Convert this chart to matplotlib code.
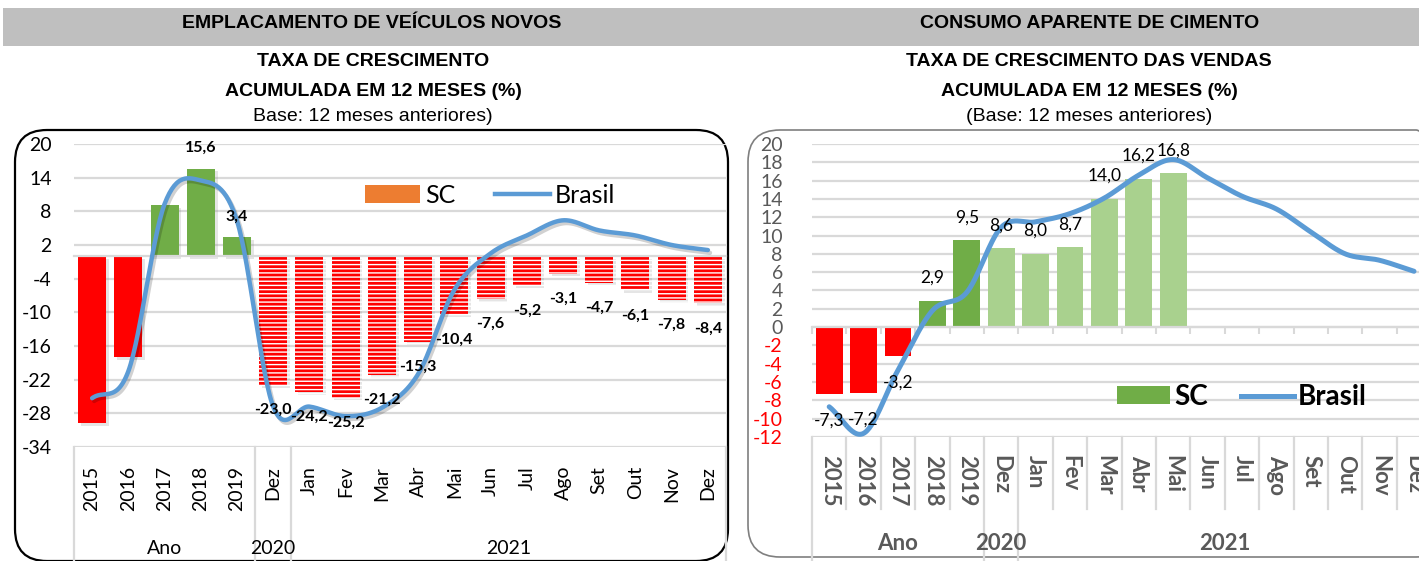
import numpy as np
import matplotlib
matplotlib.use("Agg")
import matplotlib.pyplot as plt
import matplotlib.transforms as mtransforms
import matplotlib.patheffects as pe
from matplotlib.patches import FancyBboxPatch, Rectangle, Patch
from matplotlib.lines import Line2D

# ---------------- data ----------------
categories = ["2015", "2016", "2017", "2018", "2019", "Dez",
              "Jan", "Fev", "Mar", "Abr", "Mai", "Jun", "Jul", "Ago", "Set", "Out", "Nov", "Dez"]
groups = [("Ano", 0, 4), ("2020", 5, 5), ("2021", 6, 17)]

veic_sc = [-29.8, -18.0, 9.1, 15.6, 3.4, -23.0, -24.2, -25.2, -21.2, -15.3,
           -10.4, -7.6, -5.2, -3.1, -4.7, -6.1, -7.8, -8.4]
veic_brasil = [-25.3, -20.5, 9.3, 13.5, 6.3, -26.8, -26.8, -28.5, -27.0, -21.0,
               -6.0, 0.5, 3.7, 6.4, 4.6, 3.7, 2.0, 1.1]
veic_label_from = 3

cim_sc = [-7.3, -7.2, -3.2, 2.9, 9.5, 8.6, 8.0, 8.7, 14.0, 16.2, 16.8,
          np.nan, np.nan, np.nan, np.nan, np.nan, np.nan, np.nan]
cim_brasil = [-8.7, -11.6, -4.7, 1.8, 3.8, 10.9, 11.5, 12.4, 14.1, 16.6, 18.3,
              16.3, 14.3, 12.9, 10.4, 8.0, 7.3, 6.1]

left_yticks = [20, 14, 8, 2, -4, -10, -16, -22, -28, -34]
right_yticks = list(range(20, -13, -2))

# ---------------- style ----------------
W, H = 1419, 561
RED = "#FF0000"
GREEN = "#70AD47"
LGREEN = "#A9D18E"
BLUE = "#5B9BD5"
GRID = "#D9D9D9"
GRAYTXT = "#595959"
NARROW = ["Liberation Sans Narrow", "Liberation Sans", "DejaVu Sans"]
BODY = ["Lato", "DejaVu Sans"]

plt.rcParams["font.family"] = BODY
plt.rcParams["hatch.linewidth"] = 1.0

fig = plt.figure(figsize=(W / 100, H / 100), dpi=100)
fig.patch.set_facecolor("white")


def fr(x0, y0, x1, y1):
    return [x0 / W, 1 - y1 / H, (x1 - x0) / W, (y1 - y0) / H]


def fy(ypx):
    return 1 - ypx / H


def smooth(xs, ys, n=30):
    # Catmull-Rom rendering of the smoothed Excel line through the given points
    xs = np.asarray(xs, float)
    ys = np.asarray(ys, float)
    P = np.column_stack([xs, ys])
    P = np.vstack([P[0] - (P[1] - P[0]), P, P[-1] + (P[-1] - P[-2])])
    out = []
    for i in range(1, len(P) - 2):
        p0, p1, p2, p3 = P[i - 1], P[i], P[i + 1], P[i + 2]
        t = np.linspace(0, 1, n, endpoint=False)[:, None]
        seg = 0.5 * ((2 * p1) + (-p0 + p2) * t + (2 * p0 - 5 * p1 + 4 * p2 - p3) * t ** 2
                     + (-p0 + 3 * p1 - 3 * p2 + p3) * t ** 3)
        out.append(seg)
    out.append(P[-2][None, :])
    out = np.vstack(out)
    return out[:, 0], out[:, 1]


# ---------------- header band & boxes ----------------
fig.add_artist(Rectangle((3, H - 46), W - 3, 38, transform=mtransforms.IdentityTransform(),
                         facecolor="#BFBFBF", edgecolor="none", zorder=0))
fig.add_artist(FancyBboxPatch((15, H - 561), 713, 431, boxstyle="round,pad=0,rounding_size=32",
                              transform=mtransforms.IdentityTransform(),
                              facecolor="none", edgecolor="black", linewidth=1.6, zorder=0))
fig.add_artist(FancyBboxPatch((748, H - 557), 700, 427, boxstyle="round,pad=0,rounding_size=32",
                              transform=mtransforms.IdentityTransform(),
                              facecolor="none", edgecolor="#7F7F7F", linewidth=1.2, zorder=0))

fig.text(372 / W, fy(23), "EMPLACAMENTO DE VEÍCULOS NOVOS", ha="center", va="center",
         family=NARROW, fontsize=14, fontweight="bold")
fig.text(1090 / W, fy(23), "CONSUMO APARENTE DE CIMENTO", ha="center", va="center",
         family=NARROW, fontsize=14, fontweight="bold")
for x, lines in [(373, ["TAXA DE CRESCIMENTO", "ACUMULADA EM 12 MESES (%)", "Base: 12 meses anteriores)"]),
                 (1089, ["TAXA DE CRESCIMENTO DAS VENDAS", "ACUMULADA EM 12 MESES (%)",
                         "(Base: 12 meses anteriores)"])]:
    for y, s, w in zip([62, 91, 117], lines, ["bold", "bold", "normal"]):
        fig.text(x / W, fy(y), s, ha="center", va="center", family=NARROW, fontsize=14,
                 fontweight=w)

x = np.arange(len(categories))

# ---------------- left chart ----------------
axL = fig.add_axes(fr(74, 144, 726, 447))
axL.set_xlim(-0.5, 17.5)
axL.set_ylim(-34, 20)
axL.set_yticks(left_yticks)
axL.set_yticklabels([str(v) for v in left_yticks])
axL.tick_params(axis="y", length=0, pad=16, labelsize=14)
axL.set_xticks([])
axL.grid(axis="y", color=GRID, linewidth=1.6, zorder=0)
axL.set_axisbelow(True)
for s in ["top", "right", "left"]:
    axL.spines[s].set_visible(False)
axL.spines["bottom"].set_position(("data", 0))
axL.spines["bottom"].set_color(GRID)
axL.spines["bottom"].set_linewidth(1.6)
axL.patch.set_alpha(0)

shadow = [pe.SimplePatchShadow(offset=(2, -2), alpha=0.2, shadow_rgbFace="gray"), pe.Normal()]
bw = 0.77
for i, v in enumerate(veic_sc):
    if i < 2:
        axL.bar(i, v, bw, color=RED, linewidth=0, zorder=2, path_effects=shadow)
    elif i < 5:
        axL.bar(i, v, bw, color=GREEN, linewidth=0, zorder=2, path_effects=shadow)
    else:
        axL.bar(i, v, bw, facecolor=RED, edgecolor="white", hatch="----", linewidth=0,
                zorder=2, path_effects=shadow)

bx, by = smooth(x, veic_brasil)
axL.plot(bx, by, color=BLUE, linewidth=3.2, zorder=3, solid_capstyle="round",
         path_effects=[pe.SimpleLineShadow(offset=(1.5, -2), alpha=0.18), pe.Normal()])

for i, v in enumerate(veic_sc):
    if i < veic_label_from:
        continue
    off = 15 if v >= 0 else -18
    axL.annotate(f"{v:.1f}".replace(".", ","), (i, v), xytext=(0, off), textcoords="offset points",
                 ha="center", va="center", fontsize=11.5, fontweight="bold", zorder=5)

trL = mtransforms.blended_transform_factory(axL.transData, fig.transFigure)
for i, c in enumerate(categories):
    axL.text(i, fy(466), c, rotation=90, ha="center", va="top", fontsize=14, transform=trL)
for name, a, b in groups:
    axL.text((a + b) / 2, fy(549), name, ha="center", va="center", fontsize=14, transform=trL)
for bnd in [-0.5, 4.5, 5.5, 17.5]:
    axL.add_line(Line2D([bnd, bnd], [fy(447), fy(561)], transform=trL, color=GRID,
                        linewidth=1.6, clip_on=False))

legL = axL.legend(handles=[Patch(facecolor="#ED7D31", edgecolor="none"),
                           Line2D([], [], color=BLUE, linewidth=3.2)],
                  labels=["SC", "Brasil"], loc="center", bbox_to_anchor=(490 / W, fy(195)),
                  bbox_transform=fig.transFigure, ncol=2, frameon=False, fontsize=18,
                  handlelength=2.2, handleheight=0.7, handletextpad=0.2, columnspacing=1.6)

# ---------------- right chart ----------------
axR = fig.add_axes(fr(812, 144, 812 + 18 * 34.4, 437))
axR.set_xlim(-0.5, 17.5)
axR.set_ylim(-12, 20)
axR.set_yticks(right_yticks)
axR.set_yticklabels([str(v) for v in right_yticks])
for lab, v in zip(axR.get_yticklabels(), right_yticks):
    lab.set_color(RED if v < 0 else GRAYTXT)
axR.tick_params(axis="y", length=0, pad=21, labelsize=14)
axR.set_xticks(np.arange(-0.5, 18, 1))
axR.set_xticklabels([])
axR.tick_params(axis="x", length=5, color=GRID, width=1.5, direction="out")
axR.grid(axis="y", color=GRID, linewidth=1.6, zorder=0)
axR.set_axisbelow(True)
for s in ["top", "right", "left"]:
    axR.spines[s].set_visible(False)
axR.spines["bottom"].set_position(("data", 0))
axR.spines["bottom"].set_color(GRID)
axR.spines["bottom"].set_linewidth(1.6)
axR.patch.set_alpha(0)

cols = [RED] * 3 + [GREEN] * 2 + [LGREEN] * 13
axR.bar(x, cim_sc, 0.78, color=cols, linewidth=0, zorder=2)

cx, cy = smooth(x, cim_brasil)
axR.plot(cx, cy, color=BLUE, linewidth=3.6, zorder=3, solid_capstyle="round")

for i, v in enumerate(cim_sc):
    if np.isnan(v):
        continue
    off = 16.5 if v >= 0 else -19
    axR.annotate(f"{v:.1f}".replace(".", ","), (i, v), xytext=(0, off), textcoords="offset points",
                 ha="center", va="center", fontsize=12.5, zorder=5)

trR = mtransforms.blended_transform_factory(axR.transData, fig.transFigure)
for i, c in enumerate(categories):
    axR.text(i, fy(455), c, rotation=270, ha="center", va="top", fontsize=16,
             fontweight="bold", color=GRAYTXT, transform=trR)
for name, a, b in groups:
    axR.text((a + b) / 2, fy(544), name, ha="center", va="center", fontsize=16,
             fontweight="bold", color=GRAYTXT, transform=trR)
for k in range(19):
    bnd = k - 0.5
    full = bnd in (-0.5, 4.5, 5.5, 17.5)
    axR.add_line(Line2D([bnd, bnd], [fy(437), fy(561 if full else 509)], transform=trR,
                        color=GRID, linewidth=1.6, clip_on=False))

legR = axR.legend(handles=[Patch(facecolor=GREEN, edgecolor="none"),
                           Line2D([], [], color=BLUE, linewidth=3.6)],
                  labels=["SC", "Brasil"], loc="center", bbox_to_anchor=(1242 / W, fy(397)),
                  bbox_transform=fig.transFigure, ncol=2, frameon=False,
                  prop={"size": 20, "weight": "bold"},
                  handlelength=1.9, handleheight=0.6, handletextpad=0.15, columnspacing=1.2)

fig.savefig("out.png", dpi=100)
